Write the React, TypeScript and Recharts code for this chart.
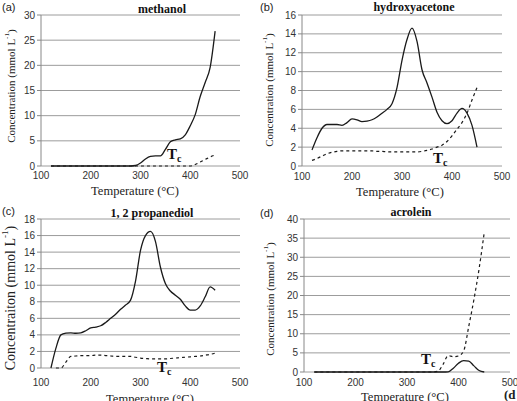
import React from "react";
import { LineChart, Line, XAxis, YAxis, CartesianGrid } from "recharts";

const TEMPS = [120, 130, 140, 150, 160, 170, 180, 190, 200, 210, 220, 230, 240, 250, 260, 270, 280, 290, 300, 310, 320, 330, 340, 350, 360, 370, 380, 390, 400, 410, 420, 430, 440, 450];

const X_TICKS = [100, 200, 300, 400, 500];

// (a) methanol
const METHANOL_SOLID = [0, 0, 0, 0, 0, 0, 0, 0, 0, 0, 0, 0, 0, 0, 0, 0, 0, 0.1, 0.6, 1.4, 1.9, 2.0, 2.0, 3.3, 4.8, 5.2, 5.4, 6.2, 8.0, 10.2, 13.8, 16.6, 19.6, 26.8];
const METHANOL_DASHED = [0, 0, 0, 0, 0, 0, 0, 0, 0, 0, 0, 0, 0, 0, 0, 0, 0, 0, 0, 0, 0, 0, 0, 0, 0, 0, 0, 0, 0, 0.3, 0.8, 1.3, 1.8, 2.2];
const METHANOL_Y_TICKS = [0, 5, 10, 15, 20, 25, 30];

// (b) hydroxyacetone
const HYDROXY_SOLID = [1.7, 3.0, 4.0, 4.4, 4.4, 4.4, 4.3, 4.6, 5.0, 4.9, 4.7, 4.75, 4.9, 5.2, 5.6, 6.0, 6.6, 8.3, 11.2, 13.4, 14.6, 13.2, 10.2, 8.8, 7.3, 5.7, 4.8, 4.5, 4.8, 5.6, 6.1, 5.6, 4.3, 2.0];
const HYDROXY_DASHED = [0.6, 0.8, 1.05, 1.3, 1.45, 1.55, 1.6, 1.6, 1.6, 1.6, 1.6, 1.6, 1.6, 1.55, 1.55, 1.5, 1.5, 1.5, 1.5, 1.5, 1.5, 1.5, 1.55, 1.65, 1.8, 2.0, 2.2, 2.6, 3.2, 3.9, 4.6, 5.6, 7.0, 8.3];
const HYDROXY_Y_TICKS = [0, 2, 4, 6, 8, 10, 12, 14, 16];

// (c) 1,2 propanediol
const PROPANEDIOL_SOLID = [0, 2.4, 4.0, 4.2, 4.25, 4.2, 4.25, 4.5, 4.85, 4.95, 5.1, 5.5, 6.0, 6.5, 7.1, 7.6, 8.2, 10.5, 14.2, 16.0, 16.5, 15.3, 12.2, 10.2, 9.3, 8.8, 8.3, 7.5, 7.0, 7.0, 7.5, 8.6, 9.8, 9.4];
const PROPANEDIOL_DASHED = [null, 0, 0, 0.7, 1.4, 1.45, 1.5, 1.5, 1.5, 1.55, 1.55, 1.5, 1.45, 1.4, 1.4, 1.4, 1.4, 1.3, 1.2, 1.15, 1.1, 1.1, 1.1, 1.1, 1.15, 1.2, 1.25, 1.3, 1.35, 1.4, 1.45, 1.55, 1.65, 1.8];
const PROPANEDIOL_Y_TICKS = [0, 2, 4, 6, 8, 10, 12, 14, 16, 18];

// (d) acrolein
const ACROLEIN_SOLID = [0, 0, 0, 0, 0, 0, 0, 0, 0, 0, 0, 0, 0, 0, 0, 0, 0, 0, 0, 0, 0, 0, 0, 0, 0, 0, 0.05, 1.0, 2.3, 3.0, 2.85, 1.6, 0.4, 0];
const ACROLEIN_DASHED = [0, 0, 0, 0, 0, 0, 0, 0, 0, 0, 0, 0, 0, 0, 0, 0, 0, 0, 0, 0, 0, 0, 0, 0, 0.2, 2.0, 4.3, 4.0, 4.2, 5.5, 12.0, 19.0, 27.0, 36.5];
const ACROLEIN_Y_TICKS = [0, 5, 10, 15, 20, 25, 30, 35, 40];

const build = (solid: (number | null)[], dashed: (number | null)[]) =>
  TEMPS.map((t, i) => ({ t, s: solid[i], d: dashed[i] }));

const SERIF = "'Liberation Serif', 'Times New Roman', serif";
const SANS = "'Liberation Sans', Arial, sans-serif";

type PanelProps = {
  left: number;
  top: number;
  width: number;
  height: number;
  margin: { top: number; right: number; bottom: number; left: number };
  data: any[];
  yTicks: number[];
  xTickMargin: number;
};

function Panel({ left, top, width, height, margin, data, yTicks, xTickMargin }: PanelProps) {
  const yMax = yTicks[yTicks.length - 1];
  return (
    <div style={{ position: "absolute", left, top }}>
      <LineChart width={width} height={height} data={data} margin={margin}>
        <CartesianGrid vertical={false} stroke="#9c9c9c" strokeWidth={1} />
        <XAxis
          dataKey="t"
          type="number"
          domain={[100, 500]}
          ticks={X_TICKS}
          interval={0}
          axisLine={false}
          tickLine={false}
          tickSize={0}
          tickMargin={xTickMargin}
          height={20}
          tick={{ fontSize: 10, fill: "#333", fontFamily: SANS }}
        />
        <YAxis
          type="number"
          domain={[0, yMax]}
          ticks={yTicks}
          interval={0}
          width={30}
          axisLine={{ stroke: "#888" }}
          tickLine={{ stroke: "#888" }}
          tickSize={4}
          tickMargin={2}
          tick={{ fontSize: 10, fill: "#333", fontFamily: SANS }}
        />
        <Line dataKey="s" type="monotone" stroke="#1a1a1a" strokeWidth={1.3} dot={false} isAnimationActive={false} />
        <Line dataKey="d" type="monotone" stroke="#1a1a1a" strokeWidth={1.2} strokeDasharray="3 3" dot={false} isAnimationActive={false} />
      </LineChart>
    </div>
  );
}

function YLabel({ x, y, size, text }: { x: number; y: number; size: number; text: string }) {
  return (
    <text
      x={x}
      y={y}
      transform={`rotate(-90, ${x}, ${y})`}
      textAnchor="middle"
      dominantBaseline="central"
      fontFamily={SERIF}
      fontSize={size}
      fill="#222"
    >
      {text} (mmol L
      <tspan fontSize={size * 0.65} dy={-size * 0.35}>-1</tspan>
      <tspan dy={size * 0.35}>)</tspan>
    </text>
  );
}

function Tc({ x, y }: { x: number; y: number }) {
  return (
    <text x={x} y={y} fontFamily={SERIF} fontWeight="bold" fontSize={15} fill="#111">
      T
      <tspan fontSize={10} dy={3}>c</tspan>
    </text>
  );
}

function TempLabel({ x, y }: { x: number; y: number }) {
  return (
    <text x={x} y={y} textAnchor="middle" fontFamily={SERIF} fontSize={12.5} fill="#222">
      Temperature (°C)
    </text>
  );
}

export default function App() {
  return (
    <div style={{ position: "absolute", left: 0, top: 0, width: 517, height: 401, background: "#fff", overflow: "hidden" }}>
      <Panel
        left={0}
        top={0}
        width={258}
        height={200}
        margin={{ top: 15, right: 18, bottom: 14, left: 11 }}
        data={build(METHANOL_SOLID, METHANOL_DASHED)}
        yTicks={METHANOL_Y_TICKS}
        xTickMargin={6}
      />
      <Panel
        left={258}
        top={0}
        width={259}
        height={200}
        margin={{ top: 15, right: 15, bottom: 14, left: 14 }}
        data={build(HYDROXY_SOLID, HYDROXY_DASHED)}
        yTicks={HYDROXY_Y_TICKS}
        xTickMargin={7}
      />
      <Panel
        left={0}
        top={200}
        width={258}
        height={201}
        margin={{ top: 19, right: 18, bottom: 13, left: 11 }}
        data={build(PROPANEDIOL_SOLID, PROPANEDIOL_DASHED)}
        yTicks={PROPANEDIOL_Y_TICKS}
        xTickMargin={11}
      />
      <Panel
        left={258}
        top={200}
        width={259}
        height={201}
        margin={{ top: 19, right: 7, bottom: 9, left: 16 }}
        data={build(ACROLEIN_SOLID, ACROLEIN_DASHED)}
        yTicks={ACROLEIN_Y_TICKS}
        xTickMargin={7}
      />
      <svg width={517} height={401} style={{ position: "absolute", left: 0, top: 0, pointerEvents: "none" }}>
        <text x={2} y={11} fontFamily={SANS} fontSize={11} fill="#222">(a)</text>
        <text x={260} y={11} fontFamily={SANS} fontSize={11} fill="#222">(b)</text>
        <text x={2} y={215} fontFamily={SANS} fontSize={11} fill="#222">(c)</text>
        <text x={260} y={217} fontFamily={SANS} fontSize={11} fill="#222">(d)</text>
        <text x={504} y={399} fontFamily={SERIF} fontWeight="bold" fontSize={13} fill="#222">(d</text>

        <text x={162} y={13} textAnchor="middle" fontFamily={SERIF} fontWeight="bold" fontSize={12} fill="#111">methanol</text>
        <text x={414} y={11} textAnchor="middle" fontFamily={SERIF} fontWeight="bold" fontSize={12} fill="#111">hydroxyacetone</text>
        <text x={152} y={217} textAnchor="middle" fontFamily={SERIF} fontWeight="bold" fontSize={12} fill="#111">1, 2 propanediol</text>
        <text x={411} y={216} textAnchor="middle" fontFamily={SERIF} fontWeight="bold" fontSize={12} fill="#111">acrolein</text>

        <YLabel x={11} y={86} size={11} text="Concentration" />
        <YLabel x={269} y={90} size={11} text="Concentration" />
        <YLabel x={10} y={298} size={14} text="Concentraiton" />
        <YLabel x={270} y={299} size={11} text="Concentration" />

        <TempLabel x={135} y={195} />
        <TempLabel x={400} y={196} />
        <TempLabel x={150} y={403} />
        <TempLabel x={405} y={401} />

        <Tc x={167} y={159} />
        <Tc x={433} y={163} />
        <Tc x={157} y={372} />
        <Tc x={421} y={364} />
      </svg>
    </div>
  );
}
